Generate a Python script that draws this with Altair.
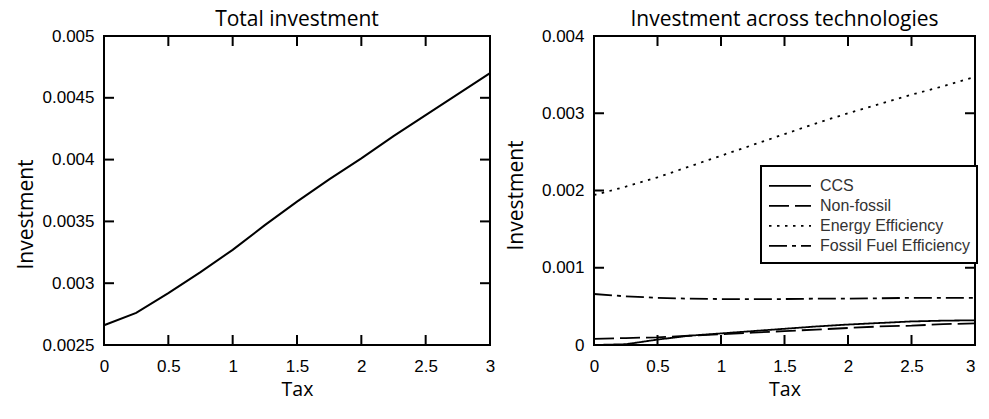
import altair as alt
import pandas as pd

tax = [0, 0.25, 0.5, 0.75, 1.0, 1.25, 1.5, 1.75, 2.0, 2.25, 2.5, 2.75, 3.0]

total_inv = [0.00266, 0.00276, 0.00292, 0.00309, 0.00327, 0.00347, 0.00366,
             0.00384, 0.00401, 0.00419, 0.00436, 0.00453, 0.00470]

ccs = [0.0, 0.00001, 0.00007, 0.00012, 0.00015, 0.00018, 0.00021,
       0.00024, 0.000265, 0.000285, 0.000305, 0.000315, 0.00032]
non_fossil = [0.00008, 0.00009, 0.0001, 0.00012, 0.00014, 0.00016, 0.00018,
              0.0002, 0.00022, 0.00024, 0.00025, 0.00027, 0.00028]
energy_eff = [0.00194, 0.00205, 0.00217, 0.00231, 0.00245, 0.00259, 0.00273,
              0.00287, 0.00300, 0.00312, 0.00324, 0.00335, 0.00347]
fossil_eff = [0.00066, 0.00063, 0.00061, 0.00060, 0.000595, 0.000595, 0.000595,
              0.0006, 0.0006, 0.000605, 0.00061, 0.00061, 0.00061]

series_names = ["CCS", "Non-fossil", "Energy Efficiency", "Fossil Fuel Efficiency"]
series_dash = [[1, 0], [20, 6], [2.5, 5.5], [18, 5, 4, 5]]

x_ticks = [0, 0.5, 1, 1.5, 2, 2.5, 3]
x_inner = [0.5, 1, 1.5, 2, 2.5]
y_ticks_left = [0.0025, 0.003, 0.0035, 0.004, 0.0045, 0.005]
y_inner_left = [0.003, 0.0035, 0.004, 0.0045]
y_ticks_right = [0, 0.001, 0.002, 0.003, 0.004]
y_inner_right = [0.001, 0.002, 0.003]

W1, W2, H = 386, 381, 309
TICK = 10
LABEL_FONT = "Liberation Sans"
TITLE_FONT = "Open Sans"

df_total = pd.DataFrame({"tax": tax, "inv": total_inv})
rows = []
for name, vals in zip(series_names, [ccs, non_fossil, energy_eff, fossil_eff]):
    for t, v in zip(tax, vals):
        rows.append({"tax": t, "inv": v, "tech": name})
df_tech = pd.DataFrame(rows)


def x_axis(align_last_right=False):
    extra = {}
    if align_last_right:
        extra["labelAlign"] = {"condition": {"test": "datum.value >= 3", "value": "right"},
                               "value": "center"}
    return alt.Axis(values=x_ticks, format="~g", ticks=False, domain=False, grid=False,
                    labelFlush=False,
                    labelFont=LABEL_FONT, labelFontSize=17, labelColor="black",
                    labelPadding=13, title="Tax", titleFont=TITLE_FONT,
                    titleFontSize=19.5, titleFontWeight="normal", titleColor="black",
                    titlePadding=6, **extra)


def y_axis(vals, tx, ty):
    return alt.Axis(values=vals, format="~g", ticks=False, domain=False, grid=False,
                    labelFont=LABEL_FONT, labelFontSize=17, labelColor="black",
                    labelPadding=10, title="Investment", titleFont=TITLE_FONT,
                    titleFontSize=21, titleFontWeight="normal", titleColor="black",
                    titleX=tx, titleY=ty)


def tick_layers(xs, ys, W):
    dx = pd.DataFrame({"v": xs})
    dy = pd.DataFrame({"v": ys})
    base_x = alt.Chart(dx).mark_rule(color="black", strokeWidth=2)
    base_y = alt.Chart(dy).mark_rule(color="black", strokeWidth=2)
    return [
        base_x.encode(x=alt.X("v:Q"), y=alt.value(H), y2=alt.value(H - TICK)),
        base_x.encode(x=alt.X("v:Q"), y=alt.value(0), y2=alt.value(TICK)),
        base_y.encode(y=alt.Y("v:Q"), x=alt.value(0), x2=alt.value(TICK)),
        base_y.encode(y=alt.Y("v:Q"), x=alt.value(W - TICK), x2=alt.value(W)),
    ]


left_line = alt.Chart(df_total).mark_line(color="black", strokeWidth=2).encode(
    x=alt.X("tax:Q", scale=alt.Scale(domain=[0, 3], nice=False), axis=x_axis()),
    y=alt.Y("inv:Q", scale=alt.Scale(domain=[0.0025, 0.005], nice=False, zero=False),
            axis=y_axis(y_ticks_left, -68, 178)),
)

left = alt.layer(left_line, *tick_layers(x_inner, y_inner_left, W1)).properties(
    width=W1, height=H,
    title=alt.TitleParams("Total investment", font=TITLE_FONT, fontSize=21,
                          fontWeight="normal", color="black", offset=-3),
)

right_lines = alt.Chart(df_tech).mark_line(color="black", strokeWidth=1.8).encode(
    x=alt.X("tax:Q", scale=alt.Scale(domain=[0, 3], nice=False),
            axis=x_axis(align_last_right=True)),
    y=alt.Y("inv:Q", scale=alt.Scale(domain=[0, 0.004], nice=False),
            axis=y_axis(y_ticks_right, -68, 159)),
    strokeDash=alt.StrokeDash(
        "tech:N",
        scale=alt.Scale(domain=series_names, range=series_dash),
        legend=alt.Legend(
            title=" ", titleFontSize=3, titlePadding=0,
            orient="none", legendX=167, legendY=130,
            symbolType="stroke", symbolSize=42 * 42, symbolStrokeWidth=1.8,
            symbolStrokeColor="black", clipHeight=19.7, rowPadding=0,
            labelFont=LABEL_FONT, labelFontSize=16, labelColor="#333333",
            labelOffset=8, padding=7,
            strokeColor="black", fillColor="white",
        ),
    ),
    detail="tech:N",
)

right = alt.layer(right_lines, *tick_layers(x_inner, y_inner_right, W2)).properties(
    width=W2, height=H,
    title=alt.TitleParams("Investment across technologies", font=TITLE_FONT, fontSize=21,
                          fontWeight="normal", color="black", offset=-3),
)

chart = alt.hconcat(left, right, spacing=8).resolve_legend(
    strokeDash="independent"
).properties(
    padding={"left": 6, "top": 0, "right": 0, "bottom": 0},
).configure_view(stroke="black", strokeWidth=2).configure_legend(
    strokeWidth=2
)

chart.save("out.html", embed_options={"renderer": "svg", "actions": False})
